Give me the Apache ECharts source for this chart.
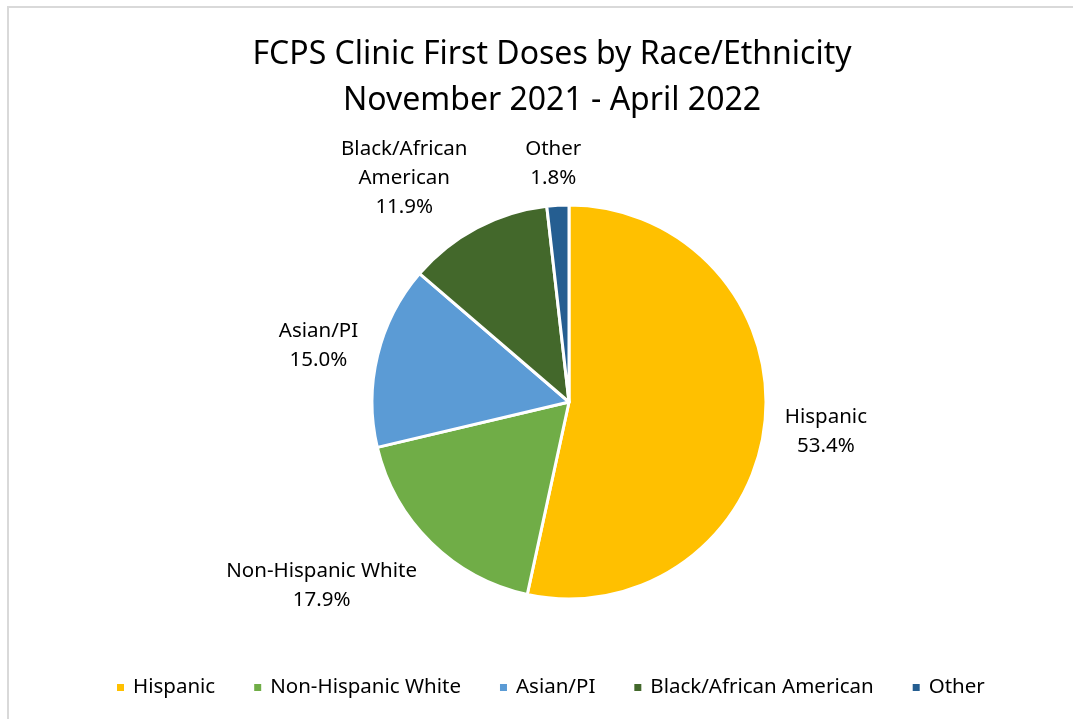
<!DOCTYPE html>
<html>
<head>
<meta charset="utf-8">
<script src="https://cdn.jsdelivr.net/npm/echarts@6/dist/echarts.min.js"></script>
<style>
html, body { margin: 0; padding: 0; background: #fff; overflow: hidden; }
#chart { width: 1073px; height: 719px; }
.frame { position: absolute; left: 7px; top: 6px; width: 1080px; height: 730px; border: 2px solid #d9d9d9; box-sizing: border-box; pointer-events: none; }
</style>
</head>
<body>
<div id="chart"></div>
<div class="frame"></div>
<script>
var categories = ['Hispanic', 'Non-Hispanic White', 'Asian/PI', 'Black/African American', 'Other'];
var labelNames = ['Hispanic', 'Non-Hispanic White', 'Asian/PI', 'Black/African\nAmerican', 'Other'];
var values = [53.4, 17.9, 15.0, 11.9, 1.8];
var colors = ['#FFC000', '#70AD47', '#5B9BD5', '#43682B', '#255E91'];

var cx = 569, cy = 402, r = 197;

var chartDom = document.getElementById('chart');
var myChart = echarts.init(chartDom);

var total = values.reduce(function (a, b) { return a + b; }, 0);

// mid angle of each slice, clockwise from 12 o'clock (radians)
var midAngles = [];
var acc = 0;
values.forEach(function (v) {
    midAngles.push((acc + v / 2) / total * Math.PI * 2);
    acc += v;
});

function clamp(v) {
    return Math.max(-1, Math.min(1, v));
}

var seriesData = categories.map(function (name, i) {
    return {
        name: name,
        value: values[i],
        itemStyle: { color: colors[i] }
    };
});

var option = {
    animation: false,
    title: {
        text: 'FCPS Clinic First Doses by Race/Ethnicity\nNovember 2021 - April 2022',
        left: 547,
        top: 27,
        textAlign: 'center',
        textStyle: {
            fontFamily: 'Noto Sans',
            fontSize: 32,
            fontWeight: 'normal',
            color: '#000',
            lineHeight: 46
        }
    },
    legend: {
        bottom: 16,
        left: 110,
        icon: 'rect',
        itemWidth: 9,
        itemHeight: 9,
        itemGap: 37,
        textStyle: {
            fontFamily: 'Noto Sans',
            fontSize: 20.5,
            color: '#000',
            padding: [0, 0, 0, 3]
        },
        data: categories
    },
    series: [{
        type: 'pie',
        center: [cx, cy],
        radius: r,
        startAngle: 90,
        clockwise: true,
        avoidLabelOverlap: false,
        itemStyle: {
            borderColor: '#fff',
            borderWidth: 3
        },
        label: {
            show: true,
            position: 'outside',
            fontFamily: 'Noto Sans',
            fontSize: 20.5,
            lineHeight: 29,
            color: '#000',
            align: 'center',
            formatter: function (p) {
                return labelNames[p.dataIndex] + '\n' + values[p.dataIndex].toFixed(1) + '%';
            }
        },
        labelLine: {
            show: false
        },
        labelLayout: function (params) {
            var a = midAngles[params.dataIndex];
            var dx = Math.sin(a), dy = -Math.cos(a);
            var w = params.labelRect.width, h = params.labelRect.height;
            var g = 20;
            var offY = dy < 0 ? dy * (h - 14) / 2 : clamp(dy / 0.5) * h / 2;
            return {
                x: cx + (r + g) * dx + clamp(dx / 0.45) * w / 2,
                y: cy + (r + g) * dy + offY,
                align: 'center',
                verticalAlign: 'middle'
            };
        },
        data: seriesData
    }]
};

myChart.setOption(option);
</script>
</body>
</html>
